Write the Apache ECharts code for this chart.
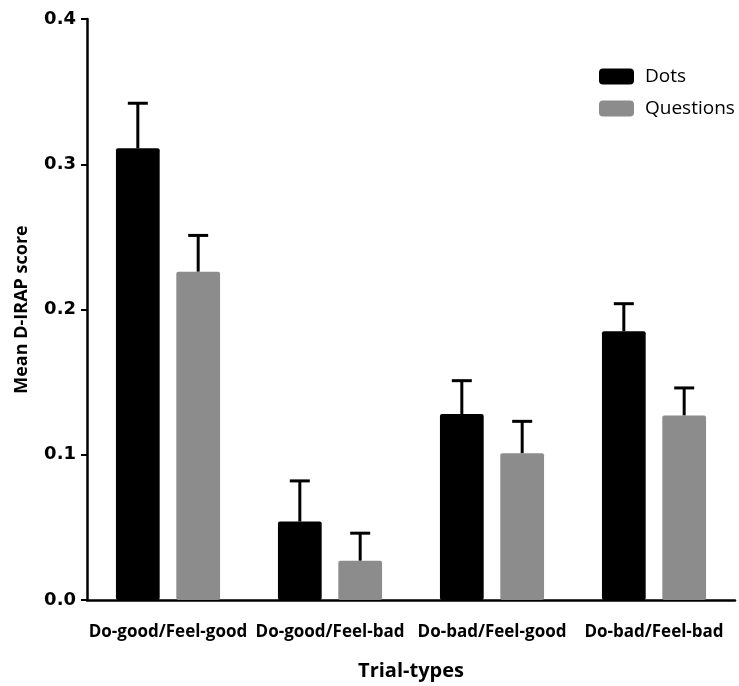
<!DOCTYPE html>
<html>
<head>
<meta charset="utf-8">
<script src="https://cdn.jsdelivr.net/npm/echarts@6/dist/echarts.min.js"></script>
<style>
  html, body { margin: 0; padding: 0; background: #fff; overflow: hidden; }
  #chart { width: 739px; height: 686px; }
</style>
</head>
<body>
<div id="chart"></div>
<script>
// Trial types on the x axis
const categories = ['Do-good/Feel-good', 'Do-good/Feel-bad', 'Do-bad/Feel-good', 'Do-bad/Feel-bad'];
// Mean D-IRAP scores and upper error limits (mean + SEM)
const dotsMean = [0.311, 0.054, 0.128, 0.185];
const dotsUpper = [0.342, 0.082, 0.151, 0.204];
const questionsMean = [0.226, 0.027, 0.101, 0.127];
const questionsUpper = [0.251, 0.046, 0.123, 0.146];
const yTicks = [0.0, 0.1, 0.2, 0.3, 0.4];

const FONT = 'Open Sans';
const BAR_W = 0.27;   // fraction of category band
const BAR_GAP = 0.38; // fraction of bar width

function errorSeries(name, upper, mean, side) {
  return {
    type: 'custom',
    name: name + ' error',
    z: 1,
    silent: true,
    data: categories.map((c, i) => [i, mean[i], upper[i]]),
    renderItem: function (params, api) {
      const band = api.size([1, 0])[0];
      const shift = side * band * BAR_W * (1 + BAR_GAP) / 2;
      const base = api.coord([api.value(0), api.value(1)]);
      const top = api.coord([api.value(0), api.value(2)]);
      const x = base[0] + shift;
      const capHalf = 10;
      const style = { stroke: '#000', lineWidth: 3, fill: null };
      return {
        type: 'group',
        children: [
          { type: 'line', shape: { x1: x, y1: base[1], x2: x, y2: top[1] }, style: style },
          { type: 'line', shape: { x1: x - capHalf, y1: top[1], x2: x + capHalf, y2: top[1] }, style: style }
        ]
      };
    }
  };
}

const chart = echarts.init(document.getElementById('chart'), null, { renderer: 'canvas' });
chart.setOption({
  animation: false,
  backgroundColor: '#fff',
  grid: { left: 87, right: 4, top: 19, bottom: 85, containLabel: false },
  legend: {
    orient: 'vertical',
    left: 594,
    top: 62,
    itemWidth: 35,
    itemHeight: 16,
    itemGap: 13,
    icon: 'roundRect',
    data: ['Dots', 'Questions'],
    textStyle: { fontFamily: FONT, fontSize: 19, color: '#000', padding: [0, 0, 0, 6] }
  },
  xAxis: {
    type: 'category',
    data: categories,
    name: 'Trial-types',
    nameLocation: 'middle',
    nameGap: 61,
    nameTextStyle: { fontFamily: FONT, fontSize: 20, fontWeight: 'bold', color: '#000' },
    axisLine: { lineStyle: { color: '#000', width: 2.5 } },
    axisTick: { alignWithLabel: true, length: 6, lineStyle: { color: '#000', width: 2 } },
    axisLabel: { fontFamily: FONT, fontSize: 17, fontWeight: 'bold', color: '#000', margin: 24, interval: 0 }
  },
  yAxis: {
    type: 'value',
    min: 0,
    max: 0.4,
    interval: 0.1,
    name: 'Mean D-IRAP score',
    nameLocation: 'middle',
    nameGap: 56,
    nameTextStyle: { fontFamily: FONT, fontSize: 18, fontWeight: 'bold', color: '#000' },
    axisLine: { show: true, lineStyle: { color: '#000', width: 2.5 } },
    axisTick: { show: true, length: 6, lineStyle: { color: '#000', width: 2 } },
    splitLine: { show: false },
    axisLabel: {
      fontFamily: 'DejaVu Sans', fontSize: 18, fontWeight: 'bold', color: '#000', margin: 11,
      formatter: v => yTicks.find(t => Math.abs(t - v) < 1e-9).toFixed(1)
    }
  },
  series: [
    {
      name: 'Dots', type: 'bar', data: dotsMean,
      barWidth: (BAR_W * 100) + '%', barGap: (BAR_GAP * 100) + '%',
      itemStyle: { color: '#000', borderRadius: 2 }, z: 2
    },
    {
      name: 'Questions', type: 'bar', data: questionsMean,
      barWidth: (BAR_W * 100) + '%', barGap: (BAR_GAP * 100) + '%',
      itemStyle: { color: '#8c8c8c', borderRadius: 2 }, z: 2
    },
    errorSeries('Dots', dotsUpper, dotsMean, -1),
    errorSeries('Questions', questionsUpper, questionsMean, 1)
  ]
});
</script>
</body>
</html>
